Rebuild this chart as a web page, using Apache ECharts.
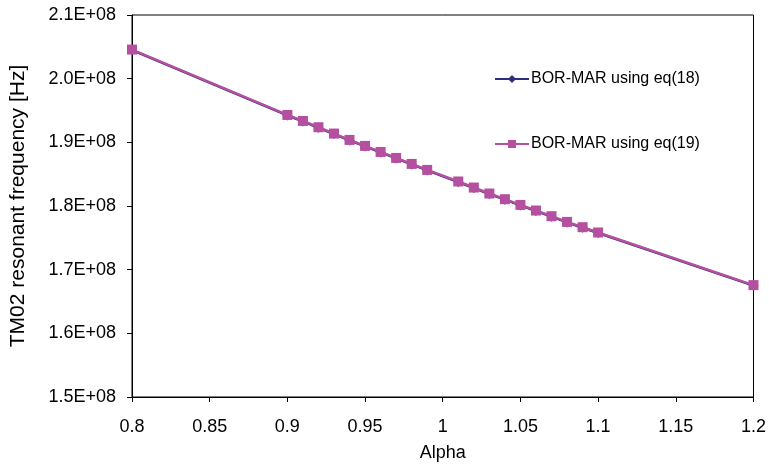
<!DOCTYPE html>
<html>
<head>
<meta charset="utf-8">
<script src="https://cdn.jsdelivr.net/npm/echarts@6/dist/echarts.min.js"></script>
<style>
html,body{margin:0;padding:0;background:#fff;}
#chart{width:769px;height:470px;}
</style>
</head>
<body>
<div id="chart"></div>
<script>
const alpha = [0.8, 0.9, 0.91, 0.92, 0.93, 0.94, 0.95, 0.96, 0.97, 0.98, 0.99, 1.01, 1.02, 1.03, 1.04, 1.05, 1.06, 1.07, 1.08, 1.09, 1.1, 1.2];
const eq18 = [2.0449e8, 1.9422e8, 1.9328e8, 1.9229e8, 1.9130e8, 1.9030e8, 1.8936e8, 1.8841e8, 1.8747e8, 1.8653e8, 1.8559e8, 1.8377e8, 1.8282e8, 1.8188e8, 1.8099e8, 1.8009e8, 1.7921e8, 1.7832e8, 1.7742e8, 1.7659e8, 1.7576e8, 1.6749e8];
const eq19 = [2.0457e8, 1.9430e8, 1.9336e8, 1.9237e8, 1.9138e8, 1.9038e8, 1.8944e8, 1.8849e8, 1.8755e8, 1.8661e8, 1.8567e8, 1.8385e8, 1.8290e8, 1.8196e8, 1.8107e8, 1.8017e8, 1.7929e8, 1.7840e8, 1.7750e8, 1.7667e8, 1.7584e8, 1.6757e8];
const seriesNames = ['BOR-MAR using eq(18)', 'BOR-MAR using eq(19)'];
const xTitle = 'Alpha';
const yTitle = 'TM02 resonant frequency [Hz]';

const font = 'Liberation Sans, Arial, sans-serif';
const chart = echarts.init(document.getElementById('chart'), null, {renderer: 'canvas'});
chart.setOption({
  animation: false,
  backgroundColor: '#fff',
  grid: {left: 129, right: 14, top: 15, bottom: 73, show: true, borderColor: '#000', borderWidth: 1, containLabel: false},
  legend: {
    orient: 'vertical', left: 489, top: 66, itemGap: 49, itemWidth: 34, itemHeight: 10,
    textStyle: {fontFamily: font, fontSize: 16, color: '#000', padding: [0,0,0,-3]},
    data: seriesNames
  },
  xAxis: {
    type: 'value', min: 0.8, max: 1.2, interval: 0.05,
    name: xTitle, nameLocation: 'middle', nameGap: 47,
    nameTextStyle: {fontFamily: font, fontSize: 18, color: '#000'},
    axisLine: {lineStyle: {color: '#000', width: 1}},
    axisTick: {show: true, inside: false, length: 5, lineStyle: {color: '#000'}},
    axisLabel: {fontFamily: font, fontSize: 18, color: '#000', margin: 21},
    splitLine: {show: false}
  },
  yAxis: {
    type: 'value', min: 1.5e8, max: 2.1e8, interval: 1e7,
    name: yTitle, nameLocation: 'middle', nameGap: 103, nameRotate: 90,
    nameTextStyle: {fontFamily: font, fontSize: 21, color: '#000'},
    axisLine: {show: true, lineStyle: {color: '#000', width: 1}},
    axisTick: {show: true, inside: false, length: 5, lineStyle: {color: '#000'}},
    axisLabel: {fontFamily: font, fontSize: 18, color: '#000', margin: 16,
      formatter: v => (v / 1e8).toFixed(1) + 'E+08'},
    splitLine: {show: false}
  },
  series: [
    {
      name: seriesNames[0], type: 'line',
      data: alpha.map((a, i) => [a, eq18[i]]),
      symbol: 'diamond', symbolSize: 10,
      lineStyle: {color: '#2E2E80', width: 2.5},
      itemStyle: {color: '#2E2E80'}
    },
    {
      name: seriesNames[1], type: 'line',
      data: alpha.map((a, i) => [a, eq19[i]]),
      symbol: 'rect', symbolSize: 10,
      lineStyle: {color: '#B4509F', width: 2.5},
      itemStyle: {color: '#B4509F'}
    }
  ]
});
</script>
</body>
</html>
